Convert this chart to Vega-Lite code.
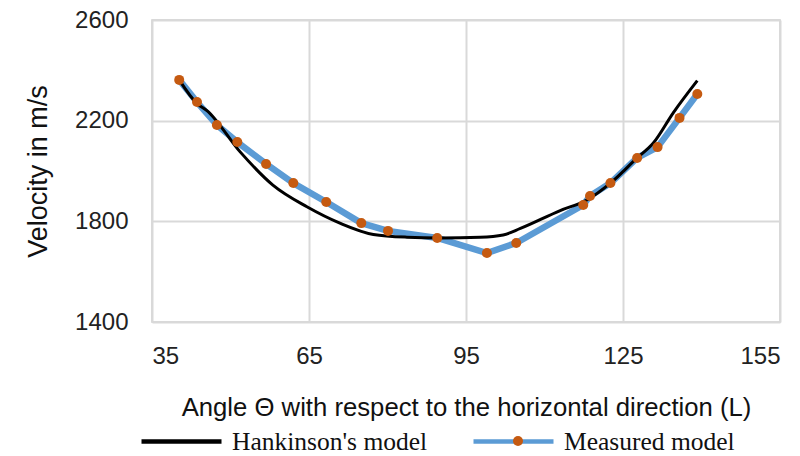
{
  "$schema": "https://vega.github.io/schema/vega-lite/v6.json",
  "width": 628,
  "height": 302,
  "autosize": {"type": "none"},
  "padding": {"left": 152, "top": 20, "right": 20, "bottom": 134},
  "background": "white",
  "config": {
    "view": {"stroke": "#cccccc", "strokeWidth": 1.5},
    "axis": {
      "labelFont": "Liberation Sans",
      "labelFontSize": 24,
      "labelColor": "#222222",
      "titleFont": "Liberation Sans",
      "titleFontSize": 25.7,
      "titleFontWeight": "normal",
      "titleColor": "#111111",
      "gridColor": "#d9d9d9",
      "gridWidth": 2,
      "domain": false,
      "ticks": false
    }
  },
  "data": {
    "values": [
      {"series": "Hankinson's model", "angle": 40.2, "v": 2362},
      {"series": "Hankinson's model", "angle": 43.6, "v": 2268},
      {"series": "Hankinson's model", "angle": 45.5, "v": 2240},
      {"series": "Hankinson's model", "angle": 51.8, "v": 2077},
      {"series": "Hankinson's model", "angle": 58.1, "v": 1944},
      {"series": "Hankinson's model", "angle": 64.6, "v": 1858},
      {"series": "Hankinson's model", "angle": 70.9, "v": 1793},
      {"series": "Hankinson's model", "angle": 77.3, "v": 1748},
      {"series": "Hankinson's model", "angle": 83.7, "v": 1737},
      {"series": "Hankinson's model", "angle": 90.1, "v": 1734},
      {"series": "Hankinson's model", "angle": 97.7, "v": 1737},
      {"series": "Hankinson's model", "angle": 102.1, "v": 1746},
      {"series": "Hankinson's model", "angle": 105.4, "v": 1772},
      {"series": "Hankinson's model", "angle": 113.0, "v": 1843},
      {"series": "Hankinson's model", "angle": 118.1, "v": 1885},
      {"series": "Hankinson's model", "angle": 122.6, "v": 1952},
      {"series": "Hankinson's model", "angle": 127.7, "v": 2052},
      {"series": "Hankinson's model", "angle": 130.8, "v": 2111},
      {"series": "Hankinson's model", "angle": 134.6, "v": 2231},
      {"series": "Hankinson's model", "angle": 139.2, "v": 2359},
      {"series": "Measured model", "angle": 40.2, "v": 2362},
      {"series": "Measured model", "angle": 43.6, "v": 2274},
      {"series": "Measured model", "angle": 47.4, "v": 2183},
      {"series": "Measured model", "angle": 51.3, "v": 2115},
      {"series": "Measured model", "angle": 56.8, "v": 2028},
      {"series": "Measured model", "angle": 62.0, "v": 1952},
      {"series": "Measured model", "angle": 68.3, "v": 1877},
      {"series": "Measured model", "angle": 75.0, "v": 1793},
      {"series": "Measured model", "angle": 80.1, "v": 1762},
      {"series": "Measured model", "angle": 89.5, "v": 1734},
      {"series": "Measured model", "angle": 99.0, "v": 1674},
      {"series": "Measured model", "angle": 104.6, "v": 1714},
      {"series": "Measured model", "angle": 117.4, "v": 1865},
      {"series": "Measured model", "angle": 118.7, "v": 1901},
      {"series": "Measured model", "angle": 122.6, "v": 1952},
      {"series": "Measured model", "angle": 127.7, "v": 2052},
      {"series": "Measured model", "angle": 131.6, "v": 2095},
      {"series": "Measured model", "angle": 135.8, "v": 2211},
      {"series": "Measured model", "angle": 139.2, "v": 2306}
    ]
  },
  "encoding": {
    "x": {
      "field": "angle", "type": "quantitative",
      "scale": {"domain": [35, 155], "nice": false},
      "axis": {"values": [35, 65, 95, 125, 155], "format": "d", "title": "Angle Θ with respect to the horizontal direction (L)", "labelPadding": 22, "titlePadding": 27}
    },
    "y": {
      "field": "v", "type": "quantitative",
      "scale": {"domain": [1400, 2600], "nice": false, "zero": false},
      "axis": {"values": [1400, 1800, 2200, 2600], "format": "d", "title": "Velocity in m/s", "labelPadding": 24, "titlePadding": 22, "titleFontSize": 27}
    }
  },
  "layer": [
    {
      "transform": [{"filter": "datum.series === 'Measured model'"}],
      "mark": {"type": "line", "strokeWidth": 6.5, "strokeJoin": "round", "strokeCap": "round"},
      "encoding": {
        "color": {
          "field": "series", "type": "nominal",
          "scale": {"domain": ["Hankinson's model", "Measured model"], "range": ["#000000", "#5B9BD5"]},
          "legend": {
            "orient": "none", "legendX": -13, "legendY": 379, "direction": "horizontal", "title": null,
            "symbolType": "stroke", "symbolSize": 6400, "symbolStrokeWidth": 4.5,
            "labelFont": "Liberation Serif", "labelFontSize": 25.5, "labelColor": "#111111",
            "labelLimit": 0, "columnPadding": 36, "labelOffset": 8
          }
        }
      }
    },
    {
      "transform": [{"filter": "datum.series === 'Hankinson\\'s model'"}],
      "mark": {"type": "line", "strokeWidth": 3, "interpolate": "monotone"},
      "encoding": {
        "color": {"field": "series", "type": "nominal"}
      }
    },
    {
      "transform": [{"filter": "datum.series === 'Measured model'"}],
      "mark": {"type": "point", "filled": true, "opacity": 1, "color": "#C55A11", "size": 100},
      "encoding": {
        "shape": {
          "field": "series", "type": "nominal",
          "scale": {"range": ["circle"]},
          "legend": {
            "orient": "none", "legendX": 360, "legendY": 415, "title": null,
            "symbolSize": 100, "symbolFillColor": "#C55A11", "symbolStrokeColor": "#C55A11",
            "labelExpr": "''", "symbolOpacity": 1
          }
        }
      }
    }
  ]
}
